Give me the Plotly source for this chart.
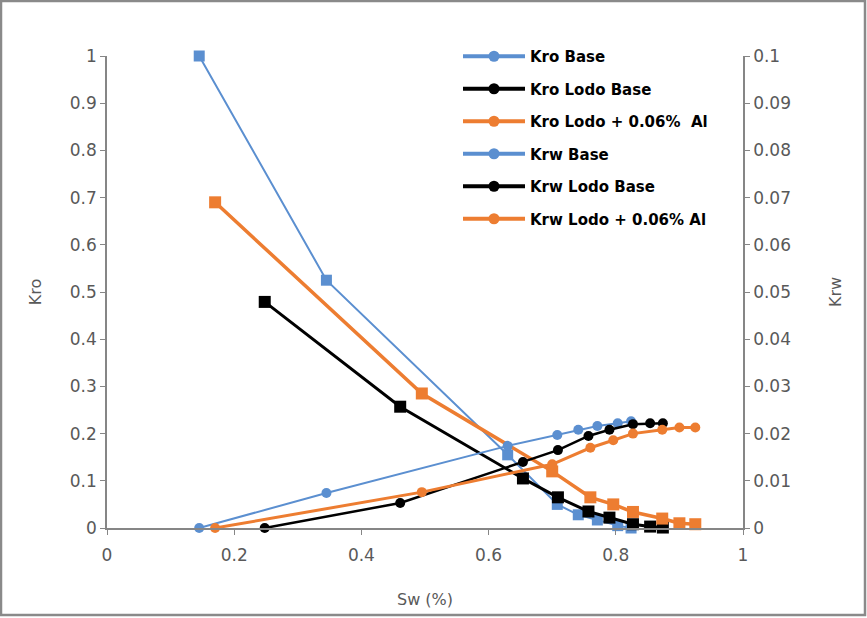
import plotly.graph_objects as go

# ---- data ----
sw_base = [0.145, 0.345, 0.63, 0.708, 0.741, 0.771, 0.803, 0.824]
kro_base = [1.0, 0.525, 0.155, 0.05, 0.028, 0.017, 0.005, 0.0]
krw_base = [0.0, 0.0074, 0.0174, 0.0197, 0.0208, 0.0216, 0.0222, 0.0226]

sw_lodo = [0.248, 0.461, 0.654, 0.709, 0.757, 0.79, 0.827, 0.854, 0.874]
kro_lodo = [0.479, 0.257, 0.105, 0.065, 0.035, 0.022, 0.008, 0.003, 0.001]
krw_lodo = [0.0, 0.0053, 0.014, 0.0165, 0.0195, 0.0208, 0.022, 0.0222, 0.0222]

sw_al = [0.17, 0.495, 0.70, 0.76, 0.796, 0.827, 0.873, 0.90, 0.925]
kro_al = [0.69, 0.285, 0.12, 0.065, 0.05, 0.034, 0.02, 0.01, 0.008]
krw_al = [0.0, 0.0076, 0.0135, 0.017, 0.0186, 0.02, 0.0208, 0.0213, 0.0213]

names = ["Kro Base", "Kro Lodo Base", "Kro Lodo + 0.06%  Al",
         "Krw Base", "Krw Lodo Base", "Krw Lodo + 0.06% Al"]

BLUE = "#5b8fd0"
BLACK = "#000000"
ORANGE = "#ed7d31"

W, H = 867, 618
ML, MR, MT, MB = 107, 124, 56, 90
PW, PH = W - ML - MR, H - MT - MB

fig = go.Figure()

series = [
    (sw_base, kro_base, BLUE, 2, "y", "square", 11),
    (sw_lodo, kro_lodo, BLACK, 3, "y", "square", 12),
    (sw_al, kro_al, ORANGE, 3.5, "y", "square", 12),
    (sw_base, krw_base, BLUE, 2, "y2", "circle", 10),
    (sw_lodo, krw_lodo, BLACK, 2.5, "y2", "circle", 10),
    (sw_al, krw_al, ORANGE, 3, "y2", "circle", 10),
]

for i, (x, y, c, lw, ax, sym, ms) in enumerate(series):
    fig.add_trace(go.Scatter(
        x=x, y=y, yaxis=ax, mode="lines+markers", cliponaxis=False,
        line=dict(color=c, width=lw),
        marker=dict(color=c, symbol=sym, size=ms),
        showlegend=False, name=names[i]))

# legend entries (circle markers as in reference legend)
for i, (x, y, c, lw, ax, sym, ms) in enumerate(series):
    fig.add_trace(go.Scatter(
        x=[None], y=[None], mode="lines+markers",
        line=dict(color=c, width=4),
        marker=dict(color=c, symbol="circle", size=11),
        name=names[i], legendgroup=f"g{i}", showlegend=True))

axis_font = dict(family="DejaVu Sans", size=17, color="#595959")
title_font = dict(family="DejaVu Sans", size=16, color="#595959")
axis_line = "#868686"

fig.update_layout(
    width=W, height=H,
    margin=dict(l=ML, r=MR, t=MT, b=MB),
    paper_bgcolor="white", plot_bgcolor="white",
    xaxis=dict(range=[0, 1], dtick=0.2, tick0=0, showgrid=False, zeroline=False,
               showline=True, linecolor=axis_line, linewidth=1.5,
               ticks="outside", ticklen=5, tickcolor=axis_line,
               tickfont=axis_font, ticklabelstandoff=6,
               title=dict(text="Sw (%)", font=title_font, standoff=30)),
    yaxis=dict(range=[0, 1], dtick=0.1, tick0=0, showgrid=False, zeroline=False,
               showline=True, linecolor=axis_line, linewidth=1.5,
               ticks="outside", ticklen=5, tickcolor=axis_line,
               tickfont=axis_font,
               title=dict(text="Kro", font=title_font, standoff=24)),
    yaxis2=dict(range=[0, 0.1], dtick=0.01, tick0=0, overlaying="y", side="right",
                showgrid=False, zeroline=False,
                showline=True, linecolor=axis_line, linewidth=1.5,
                ticks="outside", ticklen=5, tickcolor=axis_line,
                tickfont=axis_font,
                title=dict(text="Krw", font=title_font, standoff=40)),
    legend=dict(x=(458 - ML) / PW, y=1 + (MT - 40) / PH, xanchor="left", yanchor="top",
                bgcolor="rgba(255,255,255,0)", traceorder="grouped",
                tracegroupgap=10, itemwidth=62,
                font=dict(family="DejaVu Sans", size=15, color="#000000", weight="bold")),
    shapes=[dict(type="rect", xref="paper", yref="paper",
                 x0=(1 - ML) / PW, x1=(W - 2 - ML) / PW,
                 y0=-(MB - 3) / PH, y1=1 + (MT - 1) / PH,
                 line=dict(color="#8a8a8a", width=2.5), fillcolor="rgba(0,0,0,0)",
                 layer="below")],
)

fig.write_html("out.html")
